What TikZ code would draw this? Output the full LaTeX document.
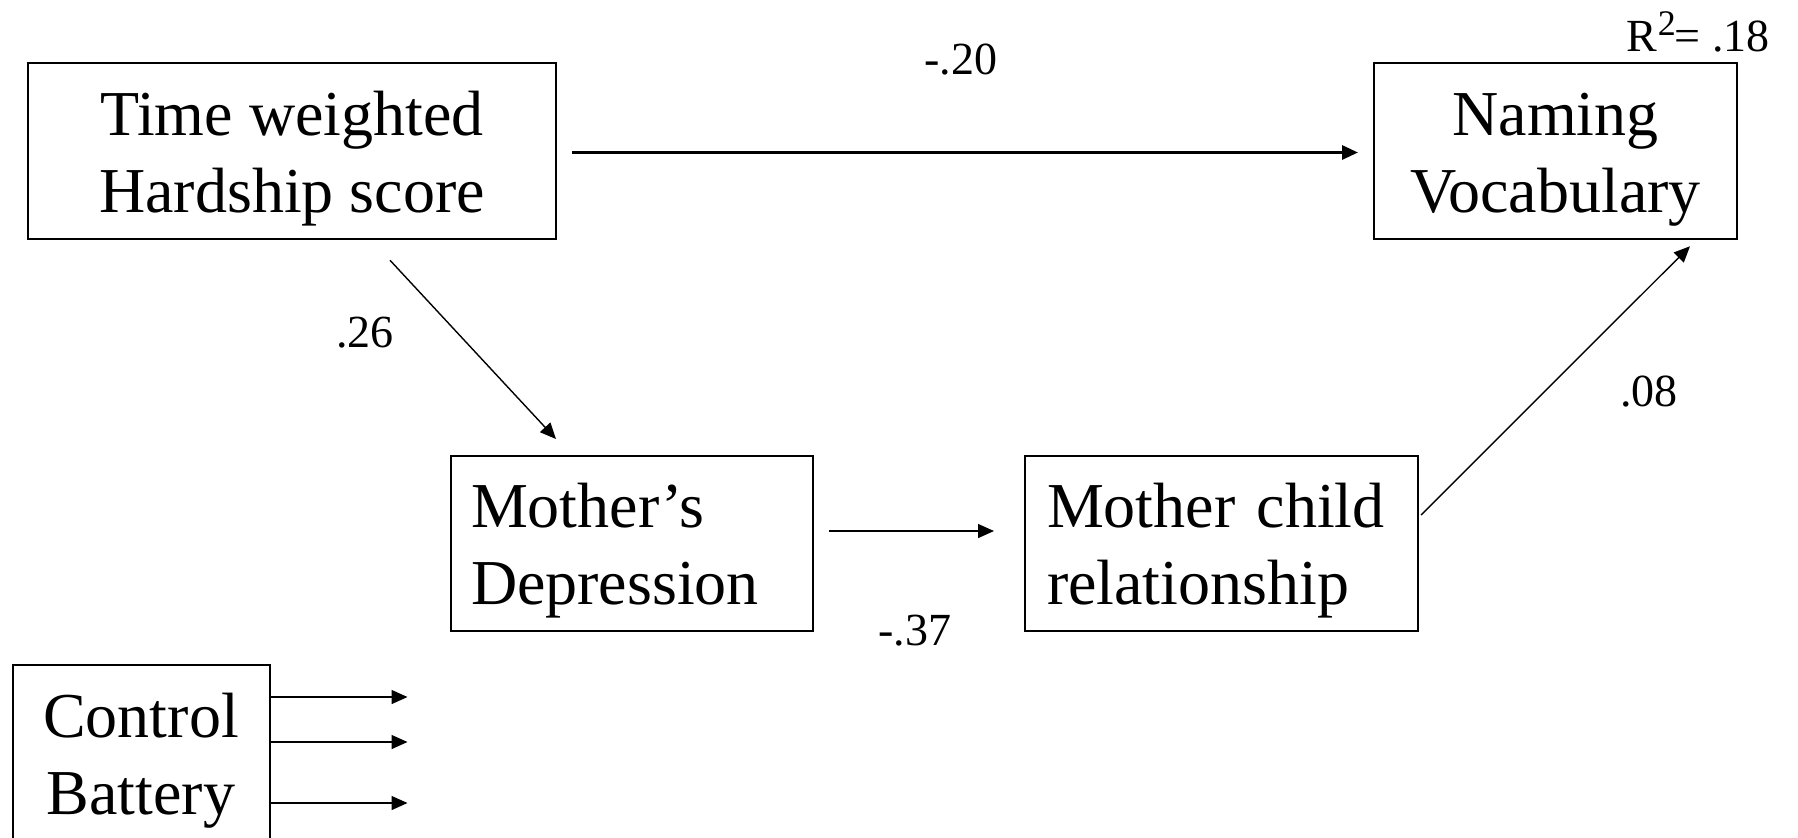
\documentclass[tikz,border=0pt]{standalone}
\usepackage{fontspec}
\setmainfont{Liberation Serif}
\usetikzlibrary{calc,arrows.meta}
\begin{document}
\begin{tikzpicture}[x=0.5pt,y=-0.5pt,
  box/.style={draw,line width=1pt,rectangle,inner sep=0pt,font=\fontsize{32pt}{38.5pt}\selectfont},
  lbl/.style={font=\fontsize{23pt}{27pt}\selectfont,inner sep=0pt},
  arr/.style={line width=0.7pt,-{Triangle[length=8pt,width=7pt]}},
  thickarr/.style={line width=1.5pt,-{Triangle[length=8pt,width=7pt]}}]
\useasboundingbox (0,0) rectangle (1798,837);
\node[box,minimum width=528.5*0.5pt,minimum height=175.5*0.5pt,align=center] (hard) at (292,151) {\rule{0pt}{30pt}Time weighted\\Hardship score};
\node[box,minimum width=363*0.5pt,minimum height=175.5*0.5pt,align=center] (nam) at (1555.5,151) {\rule{0pt}{30pt}Naming\\Vocabulary};
\node[box,minimum width=362*0.5pt,minimum height=175*0.5pt,text width=322*0.5pt,align=left] (mdep) at (632,543.5) {\rule{0pt}{29pt}Mother’s\\Depression};
\node[box,minimum width=393*0.5pt,minimum height=175*0.5pt,text width=349*0.5pt,align=left] (mch) at (1221.5,543.5) {\rule{0pt}{29pt}Mother child\\relationship};
\node[box,minimum width=257*0.5pt,minimum height=180*0.5pt,align=center] (ctrl) at (141,755) {\rule{0pt}{28pt}Control\\Battery};

\draw[thickarr] ($(hard.east)+(15,1.5)$) -- ($(nam.west)+(-15,1.5)$);
\draw[arr] ($(hard.south)+(98,20.5)$) -- ($(mdep.north)+(-76,-16)$);
\draw[arr] ($(mdep.east)+(15,-12.5)$) -- ($(mch.west)+(-30,-12.5)$);
\draw[arr] ($(mch.east)+(2,-28.5)$) -- ($(nam.south)+(134.5,6.5)$);

\coordinate (c1) at ($(ctrl.east)+(137,-58)$);
\coordinate (c2) at ($(ctrl.east)+(137,-13)$);
\coordinate (c3) at ($(ctrl.east)+(137,48)$);
\draw[arr] ($(ctrl.east)+(0,-58)$) -- (c1);
\draw[arr] ($(ctrl.east)+(0,-13)$) -- (c2);
\draw[arr] ($(ctrl.east)+(0,48)$) -- (c3);

\node[lbl] (l20) at (961,60) {-.20};
\node[lbl] (l26) at (365,333) {.26};
\node[lbl] (l08) at (1649,392) {.08};
\node[lbl] (l37) at (915,631) {-.37};
\node[lbl] (r2) at (1698,32) {R\kern0.5pt\raisebox{0.34em}{\fontsize{18pt}{18pt}\selectfont 2}\kern-0.5pt= .18};
\end{tikzpicture}
\end{document}
